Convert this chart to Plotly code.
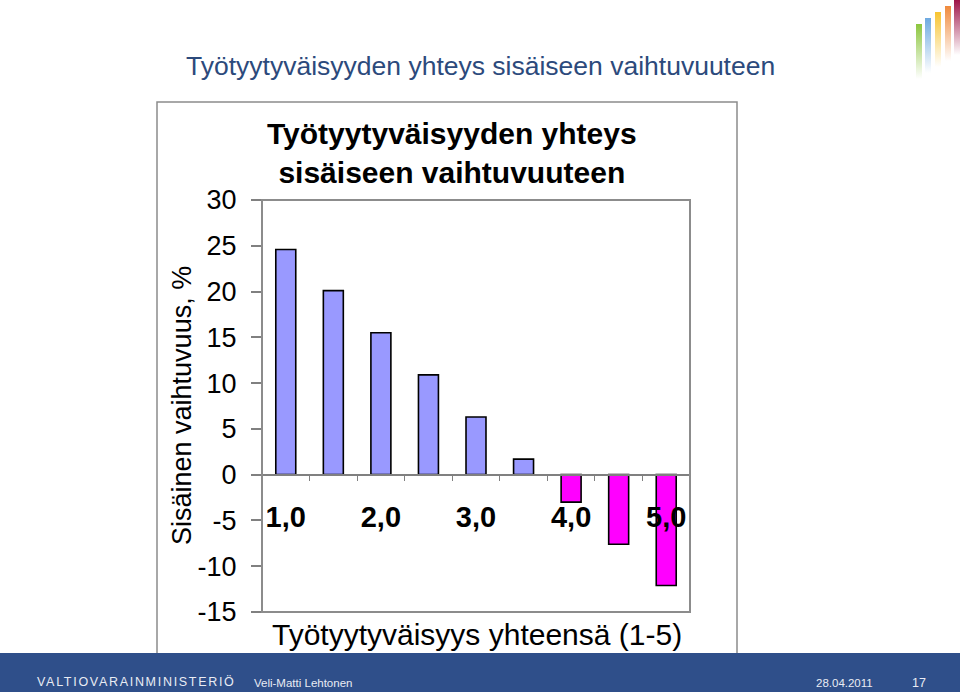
"""Työtyytyväisyyden yhteys sisäiseen vaihtuvuuteen - slide chart."""
import base64

import plotly.graph_objects as go

# Data
categories = [1.0, 1.5, 2.0, 2.5, 3.0, 3.5, 4.0, 4.5, 5.0]
turnover = [24.6, 20.1, 15.5, 10.9, 6.3, 1.7, -3.0, -7.6, -12.1]
x_tickvals = [1.0, 2.0, 3.0, 4.0, 5.0]
x_ticktext = ["1,0", "2,0", "3,0", "4,0", "5,0"]
y_tickvals = [-15, -10, -5, 0, 5, 10, 15, 20, 25, 30]

slide_title = "Työtyytyväisyyden yhteys sisäiseen vaihtuvuuteen"
chart_title = "Työtyytyväisyyden yhteys<br>sisäiseen vaihtuvuuteen"
x_title = "Työtyytyväisyys yhteensä (1-5)"
y_title = "Sisäinen vaihtuvuus, %"

W, H = 960, 692
# plot area in pixels
PL, PR, PT, PB = 262, 690, 200, 612


def px(x):
    return (x - PL) / (PR - PL)


def py(y):
    return (PB - y) / (PB - PT)


POS_COLOR = "#9999ff"
NEG_COLOR = "#ff00ff"
FRAME = "#8c8c8c"
NAVY = "#2f4f8a"

fig = go.Figure()

fig.add_trace(go.Bar(
    x=categories,
    y=turnover,
    marker=dict(
        color=[POS_COLOR if v >= 0 else NEG_COLOR for v in turnover],
        line=dict(color="black", width=1.6),
    ),
    showlegend=False,
    hoverinfo="x+y",
))

step = categories[1] - categories[0]
boundaries = [c + step / 2 for c in categories[:-1]]
y_lo, y_hi = min(y_tickvals), max(y_tickvals)

fig.update_xaxes(
    range=[categories[0] - step / 2, categories[-1] + step / 2],
    anchor="free",
    position=(0 - y_lo) / (y_hi - y_lo),  # axis crosses at zero
    showline=True, linecolor="#808080", linewidth=1.5,
    showgrid=False, zeroline=False,
    tickmode="array", tickvals=x_tickvals, ticktext=x_ticktext,
    ticks="",
    ticklabelstandoff=17,
    tickfont=dict(family="Arial", size=29, color="black", weight="bold"),
    minor=dict(tickmode="array", tickvals=boundaries, ticks="outside",
               ticklen=6, tickcolor="#808080", tickwidth=1, showgrid=False),
)

fig.update_yaxes(
    range=[y_lo, y_hi],
    tickmode="array", tickvals=y_tickvals,
    ticktext=[str(v) for v in y_tickvals],
    ticks="outside", ticklen=10, tickcolor="#808080", tickwidth=1.5,
    ticklabelstandoff=9,
    showline=False, showgrid=False, zeroline=False,
    tickfont=dict(family="Arial", size=27, color="black"),
)

# chart box, plot frame, footer band
shapes = [
    dict(type="rect", xref="paper", yref="paper",
         x0=px(157), x1=px(737), y0=py(660), y1=py(102),
         line=dict(color=FRAME, width=1.5), fillcolor="rgba(0,0,0,0)", layer="below"),
    dict(type="rect", xref="x domain", yref="y domain", x0=0, x1=1, y0=0, y1=1,
         line=dict(color=FRAME, width=2), layer="above"),
    dict(type="rect", xref="paper", yref="paper",
         x0=px(0), x1=px(W), y0=py(H), y1=py(653),
         line=dict(width=0), fillcolor=NAVY, layer="above"),
]

footer_font = dict(family="Liberation Sans Narrow, Arial Narrow, Arial", size=12.5, color="#e9ecf4")
annotations = [
    dict(text=slide_title, x=px(480), y=py(66), xanchor="center", yanchor="middle",
         font=dict(family="Arial", size=26.5, color="#2c4a7c")),
    dict(text=chart_title, x=px(452), y=py(153), xanchor="center", yanchor="middle",
         font=dict(family="Arial", size=30, color="black", weight="bold")),
    dict(text=y_title, x=px(182), y=py(406), xanchor="center", yanchor="middle",
         textangle=-90, font=dict(family="Arial", size=27, color="black")),
    dict(text=x_title, x=px(477), y=py(634), xanchor="center", yanchor="middle",
         font=dict(family="Arial", size=30, color="black")),
    dict(text='<span style="letter-spacing:1.7px">VALTIOVARAINMINISTERIÖ</span>',
         x=px(35), y=py(682), xanchor="left", yanchor="middle", font=footer_font),
    dict(text="Veli-Matti Lehtonen", x=px(252), y=py(683), xanchor="left",
         yanchor="middle", font=dict(footer_font, size=11.5)),
    dict(text="28.04.2011", x=px(814), y=py(683), xanchor="left",
         yanchor="middle", font=dict(footer_font, size=11.5)),
    dict(text="17", x=px(910), y=py(683), xanchor="left",
         yanchor="middle", font=footer_font),
]
for a in annotations:
    a.update(xref="paper", yref="paper", showarrow=False)

# decorative logo: fading colour bars, top right
logo_bars = [(916, 24, "#8cc63e"), (925, 18, "#6eaae0"), (935, 12, "#f8c430"),
             (945, 6, "#f08a3c"), (954, 0, "#9e1448")]
defs, rects = [], []
for i, (bx, top, col) in enumerate(logo_bars):
    defs.append(
        f'<linearGradient id="g{i}" x1="0" y1="0" x2="0" y2="1">'
        f'<stop offset="0" stop-color="{col}" stop-opacity="1"/>'
        f'<stop offset="1" stop-color="{col}" stop-opacity="0"/></linearGradient>'
    )
    rects.append(f'<rect x="{bx - 910}" y="{top}" width="6" height="55" fill="url(#g{i})"/>')
svg = (f'<svg xmlns="http://www.w3.org/2000/svg" width="50" height="80" viewBox="0 0 50 80">'
       f'<defs>{"".join(defs)}</defs>{"".join(rects)}</svg>')
logo_src = "data:image/svg+xml;base64," + base64.b64encode(svg.encode()).decode()

fig.update_layout(
    width=W, height=H,
    margin=dict(l=PL, r=W - PR, t=PT, b=H - PB, pad=0),
    paper_bgcolor="white", plot_bgcolor="white",
    bargap=0.58,
    shapes=shapes,
    annotations=annotations,
    images=[dict(source=logo_src, xref="paper", yref="paper",
                 x=px(910), y=py(0), sizex=50 / (PR - PL), sizey=80 / (PB - PT),
                 xanchor="left", yanchor="top", sizing="stretch", layer="above")],
)

# drop the default page margin so the slide fills the window
fig.write_html("out.html", config={"displayModeBar": False},
               post_script="document.body.style.margin='0';document.body.style.overflow='hidden';")
